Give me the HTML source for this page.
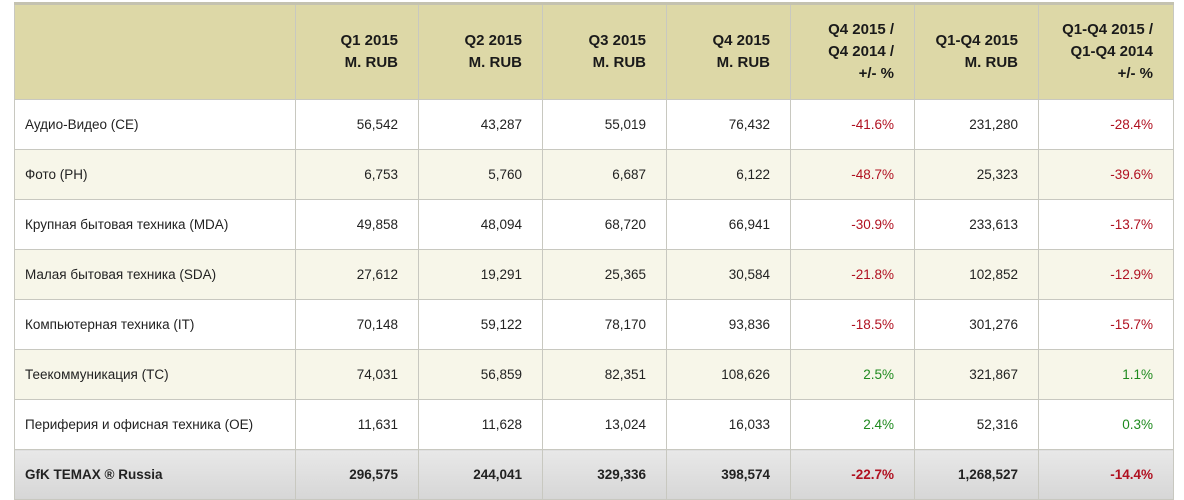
<!DOCTYPE html>
<html><head><meta charset="utf-8"><style>
body{margin:0;background:#fff;width:1184px;height:498px;overflow:hidden;font-family:"Liberation Sans",Arial,sans-serif;}
table{position:absolute;left:14px;top:2px;border-collapse:collapse;table-layout:fixed;width:1159px;}
td,th{border:1px solid #c8c8c0;padding:0 20px 0 10px;text-align:right;font-size:13.5px;color:#222;}
th{background:#ddd8a7;height:94px;font-size:15px;font-weight:bold;line-height:22px;color:#1a1a1a;border-top:3px solid #c4c2b0;}
td{height:49px;}
td:first-child{text-align:left;}
tr.a td{background:#f7f6e9;}
tr.t td{background:linear-gradient(#e8e8e8,#d6d6d6);font-weight:bold;}
.r{color:#b01020}.g{color:#1f8a1f}
</style></head><body>
<table>
<colgroup><col style="width:281px"><col style="width:123px"><col style="width:124px"><col style="width:124px"><col style="width:124px"><col style="width:124px"><col style="width:124px"><col style="width:135px"></colgroup>
<tr><th></th><th>Q1 2015<br>M. RUB</th><th>Q2 2015<br>M. RUB</th><th>Q3 2015<br>M. RUB</th><th>Q4 2015<br>M. RUB</th><th>Q4 2015 /<br>Q4 2014 /<br>+/- %</th><th>Q1-Q4 2015<br>M. RUB</th><th>Q1-Q4 2015 /<br>Q1-Q4 2014<br>+/- %</th></tr>
<tr><td>Аудио-Видео (CE)</td><td>56,542</td><td>43,287</td><td>55,019</td><td>76,432</td><td class="r">-41.6%</td><td>231,280</td><td class="r">-28.4%</td></tr>
<tr class="a"><td>Фото (PH)</td><td>6,753</td><td>5,760</td><td>6,687</td><td>6,122</td><td class="r">-48.7%</td><td>25,323</td><td class="r">-39.6%</td></tr>
<tr><td>Крупная бытовая техника (MDA)</td><td>49,858</td><td>48,094</td><td>68,720</td><td>66,941</td><td class="r">-30.9%</td><td>233,613</td><td class="r">-13.7%</td></tr>
<tr class="a"><td>Малая бытовая техника (SDA)</td><td>27,612</td><td>19,291</td><td>25,365</td><td>30,584</td><td class="r">-21.8%</td><td>102,852</td><td class="r">-12.9%</td></tr>
<tr><td>Компьютерная техника (IT)</td><td>70,148</td><td>59,122</td><td>78,170</td><td>93,836</td><td class="r">-18.5%</td><td>301,276</td><td class="r">-15.7%</td></tr>
<tr class="a"><td>Теекоммуникация (TC)</td><td>74,031</td><td>56,859</td><td>82,351</td><td>108,626</td><td class="g">2.5%</td><td>321,867</td><td class="g">1.1%</td></tr>
<tr><td>Периферия и офисная техника (OE)</td><td>11,631</td><td>11,628</td><td>13,024</td><td>16,033</td><td class="g">2.4%</td><td>52,316</td><td class="g">0.3%</td></tr>
<tr class="t"><td>GfK TEMAX ® Russia</td><td>296,575</td><td>244,041</td><td>329,336</td><td>398,574</td><td class="r">-22.7%</td><td>1,268,527</td><td class="r">-14.4%</td></tr>
</table>
</body></html>
